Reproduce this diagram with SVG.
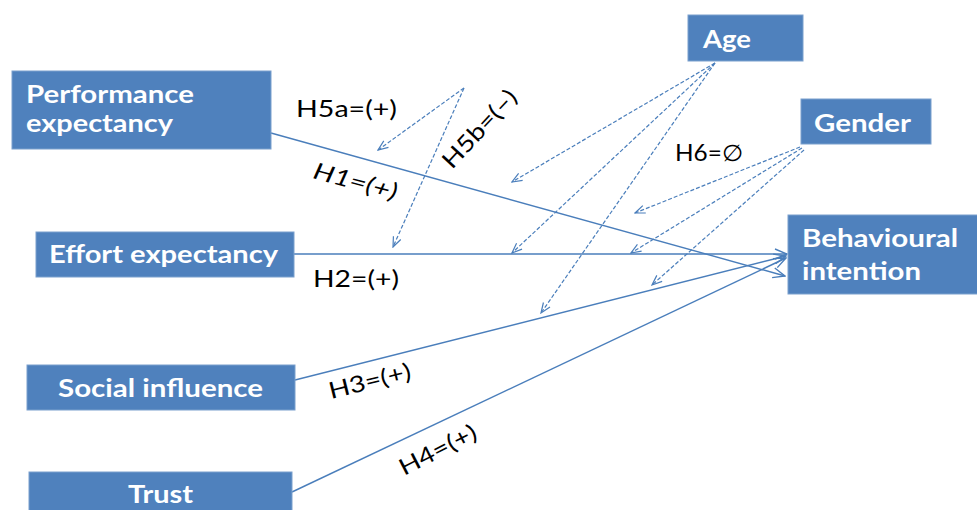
<svg xmlns="http://www.w3.org/2000/svg" width="977" height="510" viewBox="0 0 977 510">
<style>
.box{fill:#4F81BD;stroke:#7BA0CD;stroke-width:1}
.nt{font-family:Lato,"Open Sans","Liberation Sans",sans-serif;font-weight:bold;font-size:24px;fill:#FFFFFF}
.lb{font-family:Lato,"Open Sans","Liberation Sans",sans-serif;font-size:23px;fill:#000000}
.solid{stroke:#4A7EBB;stroke-width:1.4;fill:none;marker-end:url(#arr)}
.dash{stroke:#4A7EBB;stroke-width:1.2;fill:none;stroke-dasharray:4 2;marker-end:url(#arrd)}
</style>
<defs>
<marker id="arr" markerUnits="userSpaceOnUse" viewBox="0 0 14 12" markerWidth="14" markerHeight="12" refX="13" refY="6" orient="auto">
<path d="M1,1 L13,6 L1,11" fill="none" stroke="#4A7EBB" stroke-width="1.4" stroke-dasharray="none"/>
</marker>
<marker id="arrd" markerUnits="userSpaceOnUse" viewBox="0 0 12 10" markerWidth="12" markerHeight="10" refX="11" refY="5" orient="auto">
<path d="M1,1 L11,5 L1,9" fill="none" stroke="#4A7EBB" stroke-width="1.2" stroke-dasharray="none"/>
</marker>
</defs>
<rect width="977" height="510" fill="#FFFFFF"/>
<g id="connectors">
<line class="solid" x1="271" y1="133" x2="785" y2="276"/>
<line class="solid" x1="294" y1="254" x2="787" y2="254"/>
<line class="solid" x1="295" y1="380" x2="786" y2="256"/>
<line class="solid" x1="292" y1="492" x2="786" y2="258"/>
<line class="dash" x1="715" y1="63" x2="512" y2="182"/>
<line class="dash" x1="715" y1="63" x2="512" y2="253"/>
<line class="dash" x1="715" y1="63" x2="541" y2="313"/>
<line class="dash" x1="800" y1="147" x2="635" y2="213"/>
<line class="dash" x1="802" y1="148" x2="631" y2="253"/>
<line class="dash" x1="804" y1="150" x2="652" y2="285"/>
<line class="dash" x1="464" y1="88" x2="378" y2="150"/>
<line class="dash" x1="464" y1="88" x2="393" y2="247"/>
</g>
<g id="labels">
<text class="lb" x="296" y="117" textLength="101" lengthAdjust="spacingAndGlyphs">H5a=(+)</text>
<text class="lb" transform="translate(452,170) rotate(-47)" textLength="98" lengthAdjust="spacingAndGlyphs">H5b=(–)</text>
<text class="lb" font-style="italic" transform="translate(312,178) rotate(15)" textLength="86" lengthAdjust="spacingAndGlyphs">H1=(+)</text>
<text class="lb" x="313" y="287" textLength="86" lengthAdjust="spacingAndGlyphs">H2=(+)</text>
<text class="lb" transform="translate(331,399) rotate(-14)" textLength="84" lengthAdjust="spacingAndGlyphs">H3=(+)</text>
<text class="lb" transform="translate(404,476) rotate(-27)" textLength="84" lengthAdjust="spacingAndGlyphs">H4=(+)</text>
<text class="lb" x="675" y="161" textLength="68" lengthAdjust="spacingAndGlyphs">H6=∅</text>
</g>
<g id="performance">
<rect class="box" x="12" y="71" width="259" height="78"/>
<text class="nt" x="26" y="103" textLength="168" lengthAdjust="spacingAndGlyphs">Performance</text>
<text class="nt" x="26" y="132" textLength="147" lengthAdjust="spacingAndGlyphs">expectancy</text>
</g>
<g id="effort">
<rect class="box" x="36" y="232" width="258" height="45"/>
<text class="nt" x="49" y="263" textLength="229" lengthAdjust="spacingAndGlyphs">Effort expectancy</text>
</g>
<g id="social">
<rect class="box" x="27" y="365" width="268" height="45"/>
<text class="nt" x="58" y="397" textLength="205" lengthAdjust="spacingAndGlyphs">Social influence</text>
</g>
<g id="trust">
<rect class="box" x="29" y="472" width="263" height="45"/>
<text class="nt" x="128" y="503" textLength="65" lengthAdjust="spacingAndGlyphs">Trust</text>
</g>
<g id="age">
<rect class="box" x="688" y="15" width="115" height="46"/>
<text class="nt" x="703" y="48" textLength="48" lengthAdjust="spacingAndGlyphs">Age</text>
</g>
<g id="gender">
<rect class="box" x="801" y="99" width="130" height="45"/>
<text class="nt" x="814" y="132" textLength="97" lengthAdjust="spacingAndGlyphs">Gender</text>
</g>
<g id="behavioural">
<rect class="box" x="788" y="215" width="195" height="79"/>
<text class="nt" x="802" y="247" textLength="156" lengthAdjust="spacingAndGlyphs">Behavioural</text>
<text class="nt" x="802" y="280" textLength="119" lengthAdjust="spacingAndGlyphs">intention</text>
</g>
</svg>
